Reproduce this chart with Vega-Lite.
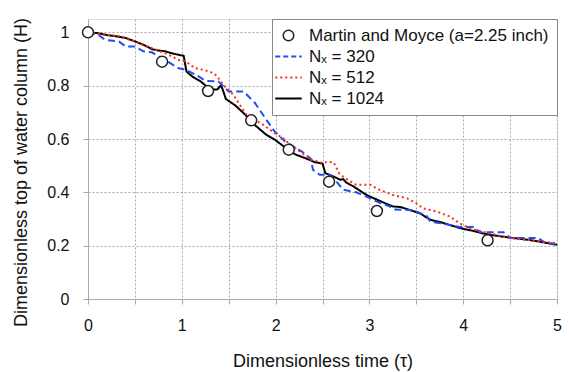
{
  "$schema": "https://vega.github.io/schema/vega-lite/v6.json",
  "width": 469,
  "height": 280,
  "padding": {"left": 12, "top": 17, "right": 8, "bottom": 5},
  "background": "white",
  "config": {
    "font": "Liberation Sans",
    "view": {"stroke": "#dddddd"},
    "axis": {
      "labelFont": "Liberation Sans",
      "titleFont": "Liberation Sans",
      "labelFontSize": 16,
      "titleFontSize": 18,
      "titleFontWeight": "normal",
      "labelColor": "#111",
      "titleColor": "#111",
      "domainColor": "#aaaaaa",
      "tickColor": "#aaaaaa",
      "tickSize": 5
    },
    "legend": {
      "labelFont": "Liberation Sans",
      "labelFontSize": 17,
      "labelColor": "#111",
      "labelLimit": 400
    }
  },
  "datasets": {
    "sim": [
      {"series": "Nₓ = 1024", "t": 0, "h": 1.0},
      {"series": "Nₓ = 1024", "t": 0.1, "h": 0.997},
      {"series": "Nₓ = 1024", "t": 0.2, "h": 0.99},
      {"series": "Nₓ = 1024", "t": 0.3, "h": 0.985},
      {"series": "Nₓ = 1024", "t": 0.4, "h": 0.979},
      {"series": "Nₓ = 1024", "t": 0.5, "h": 0.966},
      {"series": "Nₓ = 1024", "t": 0.6, "h": 0.952},
      {"series": "Nₓ = 1024", "t": 0.68, "h": 0.937},
      {"series": "Nₓ = 1024", "t": 0.75, "h": 0.932},
      {"series": "Nₓ = 1024", "t": 0.82, "h": 0.929},
      {"series": "Nₓ = 1024", "t": 0.89, "h": 0.922},
      {"series": "Nₓ = 1024", "t": 0.95, "h": 0.917},
      {"series": "Nₓ = 1024", "t": 1.02, "h": 0.912},
      {"series": "Nₓ = 1024", "t": 1.05, "h": 0.853},
      {"series": "Nₓ = 1024", "t": 1.12, "h": 0.832},
      {"series": "Nₓ = 1024", "t": 1.2, "h": 0.816},
      {"series": "Nₓ = 1024", "t": 1.27, "h": 0.796},
      {"series": "Nₓ = 1024", "t": 1.34, "h": 0.785},
      {"series": "Nₓ = 1024", "t": 1.38, "h": 0.786},
      {"series": "Nₓ = 1024", "t": 1.42, "h": 0.802},
      {"series": "Nₓ = 1024", "t": 1.47, "h": 0.75},
      {"series": "Nₓ = 1024", "t": 1.57, "h": 0.726},
      {"series": "Nₓ = 1024", "t": 1.68, "h": 0.69},
      {"series": "Nₓ = 1024", "t": 1.78, "h": 0.652},
      {"series": "Nₓ = 1024", "t": 1.9, "h": 0.616},
      {"series": "Nₓ = 1024", "t": 1.99, "h": 0.598},
      {"series": "Nₓ = 1024", "t": 2.11, "h": 0.566},
      {"series": "Nₓ = 1024", "t": 2.21, "h": 0.542},
      {"series": "Nₓ = 1024", "t": 2.31, "h": 0.529},
      {"series": "Nₓ = 1024", "t": 2.42, "h": 0.513},
      {"series": "Nₓ = 1024", "t": 2.5, "h": 0.508},
      {"series": "Nₓ = 1024", "t": 2.53, "h": 0.472},
      {"series": "Nₓ = 1024", "t": 2.62, "h": 0.459},
      {"series": "Nₓ = 1024", "t": 2.69, "h": 0.447},
      {"series": "Nₓ = 1024", "t": 2.72, "h": 0.45},
      {"series": "Nₓ = 1024", "t": 2.75, "h": 0.438},
      {"series": "Nₓ = 1024", "t": 2.83, "h": 0.422},
      {"series": "Nₓ = 1024", "t": 2.97, "h": 0.39},
      {"series": "Nₓ = 1024", "t": 3.11, "h": 0.368},
      {"series": "Nₓ = 1024", "t": 3.18, "h": 0.357},
      {"series": "Nₓ = 1024", "t": 3.25, "h": 0.347},
      {"series": "Nₓ = 1024", "t": 3.33, "h": 0.345},
      {"series": "Nₓ = 1024", "t": 3.43, "h": 0.334},
      {"series": "Nₓ = 1024", "t": 3.54, "h": 0.321},
      {"series": "Nₓ = 1024", "t": 3.65, "h": 0.297},
      {"series": "Nₓ = 1024", "t": 3.76, "h": 0.288},
      {"series": "Nₓ = 1024", "t": 3.86, "h": 0.277},
      {"series": "Nₓ = 1024", "t": 4.0, "h": 0.263},
      {"series": "Nₓ = 1024", "t": 4.1, "h": 0.256},
      {"series": "Nₓ = 1024", "t": 4.21, "h": 0.246},
      {"series": "Nₓ = 1024", "t": 4.3, "h": 0.24},
      {"series": "Nₓ = 1024", "t": 4.5, "h": 0.23},
      {"series": "Nₓ = 1024", "t": 4.6, "h": 0.226},
      {"series": "Nₓ = 1024", "t": 4.71, "h": 0.221},
      {"series": "Nₓ = 1024", "t": 4.85, "h": 0.213},
      {"series": "Nₓ = 1024", "t": 5.0, "h": 0.203},

      {"series": "Nₓ = 320", "t": 0, "h": 1.0},
      {"series": "Nₓ = 320", "t": 0.11, "h": 0.991},
      {"series": "Nₓ = 320", "t": 0.18, "h": 0.972},
      {"series": "Nₓ = 320", "t": 0.33, "h": 0.966},
      {"series": "Nₓ = 320", "t": 0.4, "h": 0.947},
      {"series": "Nₓ = 320", "t": 0.5, "h": 0.947},
      {"series": "Nₓ = 320", "t": 0.59, "h": 0.929},
      {"series": "Nₓ = 320", "t": 0.68, "h": 0.925},
      {"series": "Nₓ = 320", "t": 0.82, "h": 0.897},
      {"series": "Nₓ = 320", "t": 0.96, "h": 0.866},
      {"series": "Nₓ = 320", "t": 1.04, "h": 0.86},
      {"series": "Nₓ = 320", "t": 1.18, "h": 0.835},
      {"series": "Nₓ = 320", "t": 1.25, "h": 0.818},
      {"series": "Nₓ = 320", "t": 1.39, "h": 0.816},
      {"series": "Nₓ = 320", "t": 1.5, "h": 0.778},
      {"series": "Nₓ = 320", "t": 1.66, "h": 0.778},
      {"series": "Nₓ = 320", "t": 1.78, "h": 0.735},
      {"series": "Nₓ = 320", "t": 1.89, "h": 0.678},
      {"series": "Nₓ = 320", "t": 1.99, "h": 0.628},
      {"series": "Nₓ = 320", "t": 2.1, "h": 0.591},
      {"series": "Nₓ = 320", "t": 2.28, "h": 0.553},
      {"series": "Nₓ = 320", "t": 2.37, "h": 0.528},
      {"series": "Nₓ = 320", "t": 2.4, "h": 0.484},
      {"series": "Nₓ = 320", "t": 2.47, "h": 0.466},
      {"series": "Nₓ = 320", "t": 2.58, "h": 0.466},
      {"series": "Nₓ = 320", "t": 2.65, "h": 0.44},
      {"series": "Nₓ = 320", "t": 2.72, "h": 0.41},
      {"series": "Nₓ = 320", "t": 2.86, "h": 0.4},
      {"series": "Nₓ = 320", "t": 2.97, "h": 0.384},
      {"series": "Nₓ = 320", "t": 3.08, "h": 0.365},
      {"series": "Nₓ = 320", "t": 3.22, "h": 0.347},
      {"series": "Nₓ = 320", "t": 3.25, "h": 0.336},
      {"series": "Nₓ = 320", "t": 3.43, "h": 0.334},
      {"series": "Nₓ = 320", "t": 3.5, "h": 0.328},
      {"series": "Nₓ = 320", "t": 3.61, "h": 0.312},
      {"series": "Nₓ = 320", "t": 3.65, "h": 0.29},
      {"series": "Nₓ = 320", "t": 3.86, "h": 0.278},
      {"series": "Nₓ = 320", "t": 3.96, "h": 0.27},
      {"series": "Nₓ = 320", "t": 4.11, "h": 0.27},
      {"series": "Nₓ = 320", "t": 4.18, "h": 0.25},
      {"series": "Nₓ = 320", "t": 4.43, "h": 0.25},
      {"series": "Nₓ = 320", "t": 4.5, "h": 0.229},
      {"series": "Nₓ = 320", "t": 4.8, "h": 0.229},
      {"series": "Nₓ = 320", "t": 4.87, "h": 0.212},
      {"series": "Nₓ = 320", "t": 5.0, "h": 0.205},

      {"series": "Nₓ = 512", "t": 0, "h": 1.0},
      {"series": "Nₓ = 512", "t": 0.15, "h": 0.993},
      {"series": "Nₓ = 512", "t": 0.33, "h": 0.985},
      {"series": "Nₓ = 512", "t": 0.5, "h": 0.966},
      {"series": "Nₓ = 512", "t": 0.68, "h": 0.941},
      {"series": "Nₓ = 512", "t": 0.86, "h": 0.916},
      {"series": "Nₓ = 512", "t": 0.96, "h": 0.897},
      {"series": "Nₓ = 512", "t": 1.04, "h": 0.891},
      {"series": "Nₓ = 512", "t": 1.14, "h": 0.866},
      {"series": "Nₓ = 512", "t": 1.3, "h": 0.853},
      {"series": "Nₓ = 512", "t": 1.37, "h": 0.838},
      {"series": "Nₓ = 512", "t": 1.45, "h": 0.8},
      {"series": "Nₓ = 512", "t": 1.55, "h": 0.766},
      {"series": "Nₓ = 512", "t": 1.64, "h": 0.716},
      {"series": "Nₓ = 512", "t": 1.69, "h": 0.691},
      {"series": "Nₓ = 512", "t": 1.75, "h": 0.678},
      {"series": "Nₓ = 512", "t": 1.87, "h": 0.653},
      {"series": "Nₓ = 512", "t": 1.99, "h": 0.622},
      {"series": "Nₓ = 512", "t": 2.08, "h": 0.603},
      {"series": "Nₓ = 512", "t": 2.14, "h": 0.584},
      {"series": "Nₓ = 512", "t": 2.28, "h": 0.547},
      {"series": "Nₓ = 512", "t": 2.39, "h": 0.522},
      {"series": "Nₓ = 512", "t": 2.51, "h": 0.509},
      {"series": "Nₓ = 512", "t": 2.55, "h": 0.515},
      {"series": "Nₓ = 512", "t": 2.62, "h": 0.512},
      {"series": "Nₓ = 512", "t": 2.68, "h": 0.47},
      {"series": "Nₓ = 512", "t": 2.74, "h": 0.453},
      {"series": "Nₓ = 512", "t": 2.86, "h": 0.428},
      {"series": "Nₓ = 512", "t": 3.01, "h": 0.428},
      {"series": "Nₓ = 512", "t": 3.11, "h": 0.409},
      {"series": "Nₓ = 512", "t": 3.25, "h": 0.39},
      {"series": "Nₓ = 512", "t": 3.4, "h": 0.378},
      {"series": "Nₓ = 512", "t": 3.5, "h": 0.359},
      {"series": "Nₓ = 512", "t": 3.57, "h": 0.34},
      {"series": "Nₓ = 512", "t": 3.72, "h": 0.328},
      {"series": "Nₓ = 512", "t": 3.86, "h": 0.309},
      {"series": "Nₓ = 512", "t": 3.96, "h": 0.284},
      {"series": "Nₓ = 512", "t": 4.07, "h": 0.265},
      {"series": "Nₓ = 512", "t": 4.28, "h": 0.246},
      {"series": "Nₓ = 512", "t": 4.5, "h": 0.228},
      {"series": "Nₓ = 512", "t": 4.71, "h": 0.221},
      {"series": "Nₓ = 512", "t": 4.85, "h": 0.215},
      {"series": "Nₓ = 512", "t": 5.0, "h": 0.209}
    ],
    "exp": [
      {"series": "Martin and Moyce (a=2.25 inch)", "t": 0, "h": 1.0},
      {"series": "Martin and Moyce (a=2.25 inch)", "t": 0.79, "h": 0.89},
      {"series": "Martin and Moyce (a=2.25 inch)", "t": 1.28, "h": 0.78},
      {"series": "Martin and Moyce (a=2.25 inch)", "t": 1.74, "h": 0.67},
      {"series": "Martin and Moyce (a=2.25 inch)", "t": 2.14, "h": 0.56},
      {"series": "Martin and Moyce (a=2.25 inch)", "t": 2.57, "h": 0.44},
      {"series": "Martin and Moyce (a=2.25 inch)", "t": 3.08, "h": 0.33},
      {"series": "Martin and Moyce (a=2.25 inch)", "t": 4.26, "h": 0.22}
    ]
  },
  "encoding": {
    "x": {
      "field": "t",
      "type": "quantitative",
      "scale": {"domain": [0, 5], "nice": false},
      "axis": {
        "title": "Dimensionless time (τ)",
        "values": [0, 0.5, 1, 1.5, 2, 2.5, 3, 3.5, 4, 4.5, 5],
        "format": "~g",
        "labelExpr": "datum.value % 1 === 0 ? datum.label : ''",
        "labelPadding": 13,
        "titlePadding": 19,
        "labelFlush": false,
        "grid": true,
        "gridColor": "#a8a8a8",
        "gridDash": [2, 2],
        "gridWidth": 1
      }
    },
    "y": {
      "field": "h",
      "type": "quantitative",
      "scale": {"domain": [0, 1.05], "nice": false},
      "axis": {
        "title": "Dimensionless top of water column (H)",
        "values": [0, 0.2, 0.4, 0.6, 0.8, 1],
        "format": "~g",
        "labelPadding": 14,
        "titlePadding": 16,
        "titleY": 153,
        "grid": true,
        "gridColor": "#a8a8a8",
        "gridDash": [2, 2],
        "gridWidth": 1
      }
    },
    "color": {
      "field": "series",
      "type": "nominal",
      "scale": {
        "domain": ["Martin and Moyce (a=2.25 inch)", "Nₓ = 320", "Nₓ = 512", "Nₓ = 1024"],
        "range": ["#222222", "#1f4ff0", "#ff2d1a", "#000000"]
      },
      "legend": {
        "title": null,
        "orient": "top-right",
        "offset": 0,
        "padding": 8,
        "rowPadding": 3,
        "strokeColor": "#888888",
        "fillColor": "white",
        "labelOffset": 12,
        "symbolStrokeWidth": 2,
        "encode": {
          "symbols": {
            "update": {
              "shape": {"signal": "datum.value === 'Martin and Moyce (a=2.25 inch)' ? 'circle' : 'stroke'"},
              "size": {"signal": "datum.value === 'Martin and Moyce (a=2.25 inch)' ? 110 : 700"},
              "fill": {"signal": "datum.value === 'Martin and Moyce (a=2.25 inch)' ? 'white' : 'transparent'"},
              "fillOpacity": {"value": 1},
              "strokeWidth": {"signal": "datum.value === 'Martin and Moyce (a=2.25 inch)' ? 1.5 : 2"},
              "strokeDash": {"signal": "datum.value === 'Nₓ = 320' ? [5, 3] : datum.value === 'Nₓ = 512' ? [2, 3] : []"}
            }
          }
        }
      }
    }
  },
  "layer": [
    {
      "data": {"name": "sim"},
      "mark": {"type": "line", "strokeWidth": 2, "interpolate": "linear"},
      "encoding": {
        "strokeDash": {
          "field": "series",
          "type": "nominal",
          "scale": {
            "domain": ["Nₓ = 320", "Nₓ = 512", "Nₓ = 1024"],
            "range": [[7, 4], [2, 3], [1, 0]]
          },
          "legend": null
        }
      }
    },
    {
      "data": {"name": "exp"},
      "mark": {"type": "point", "shape": "circle", "size": 120, "filled": false, "fill": "white", "fillOpacity": 1, "strokeWidth": 1.5}
    }
  ]
}
